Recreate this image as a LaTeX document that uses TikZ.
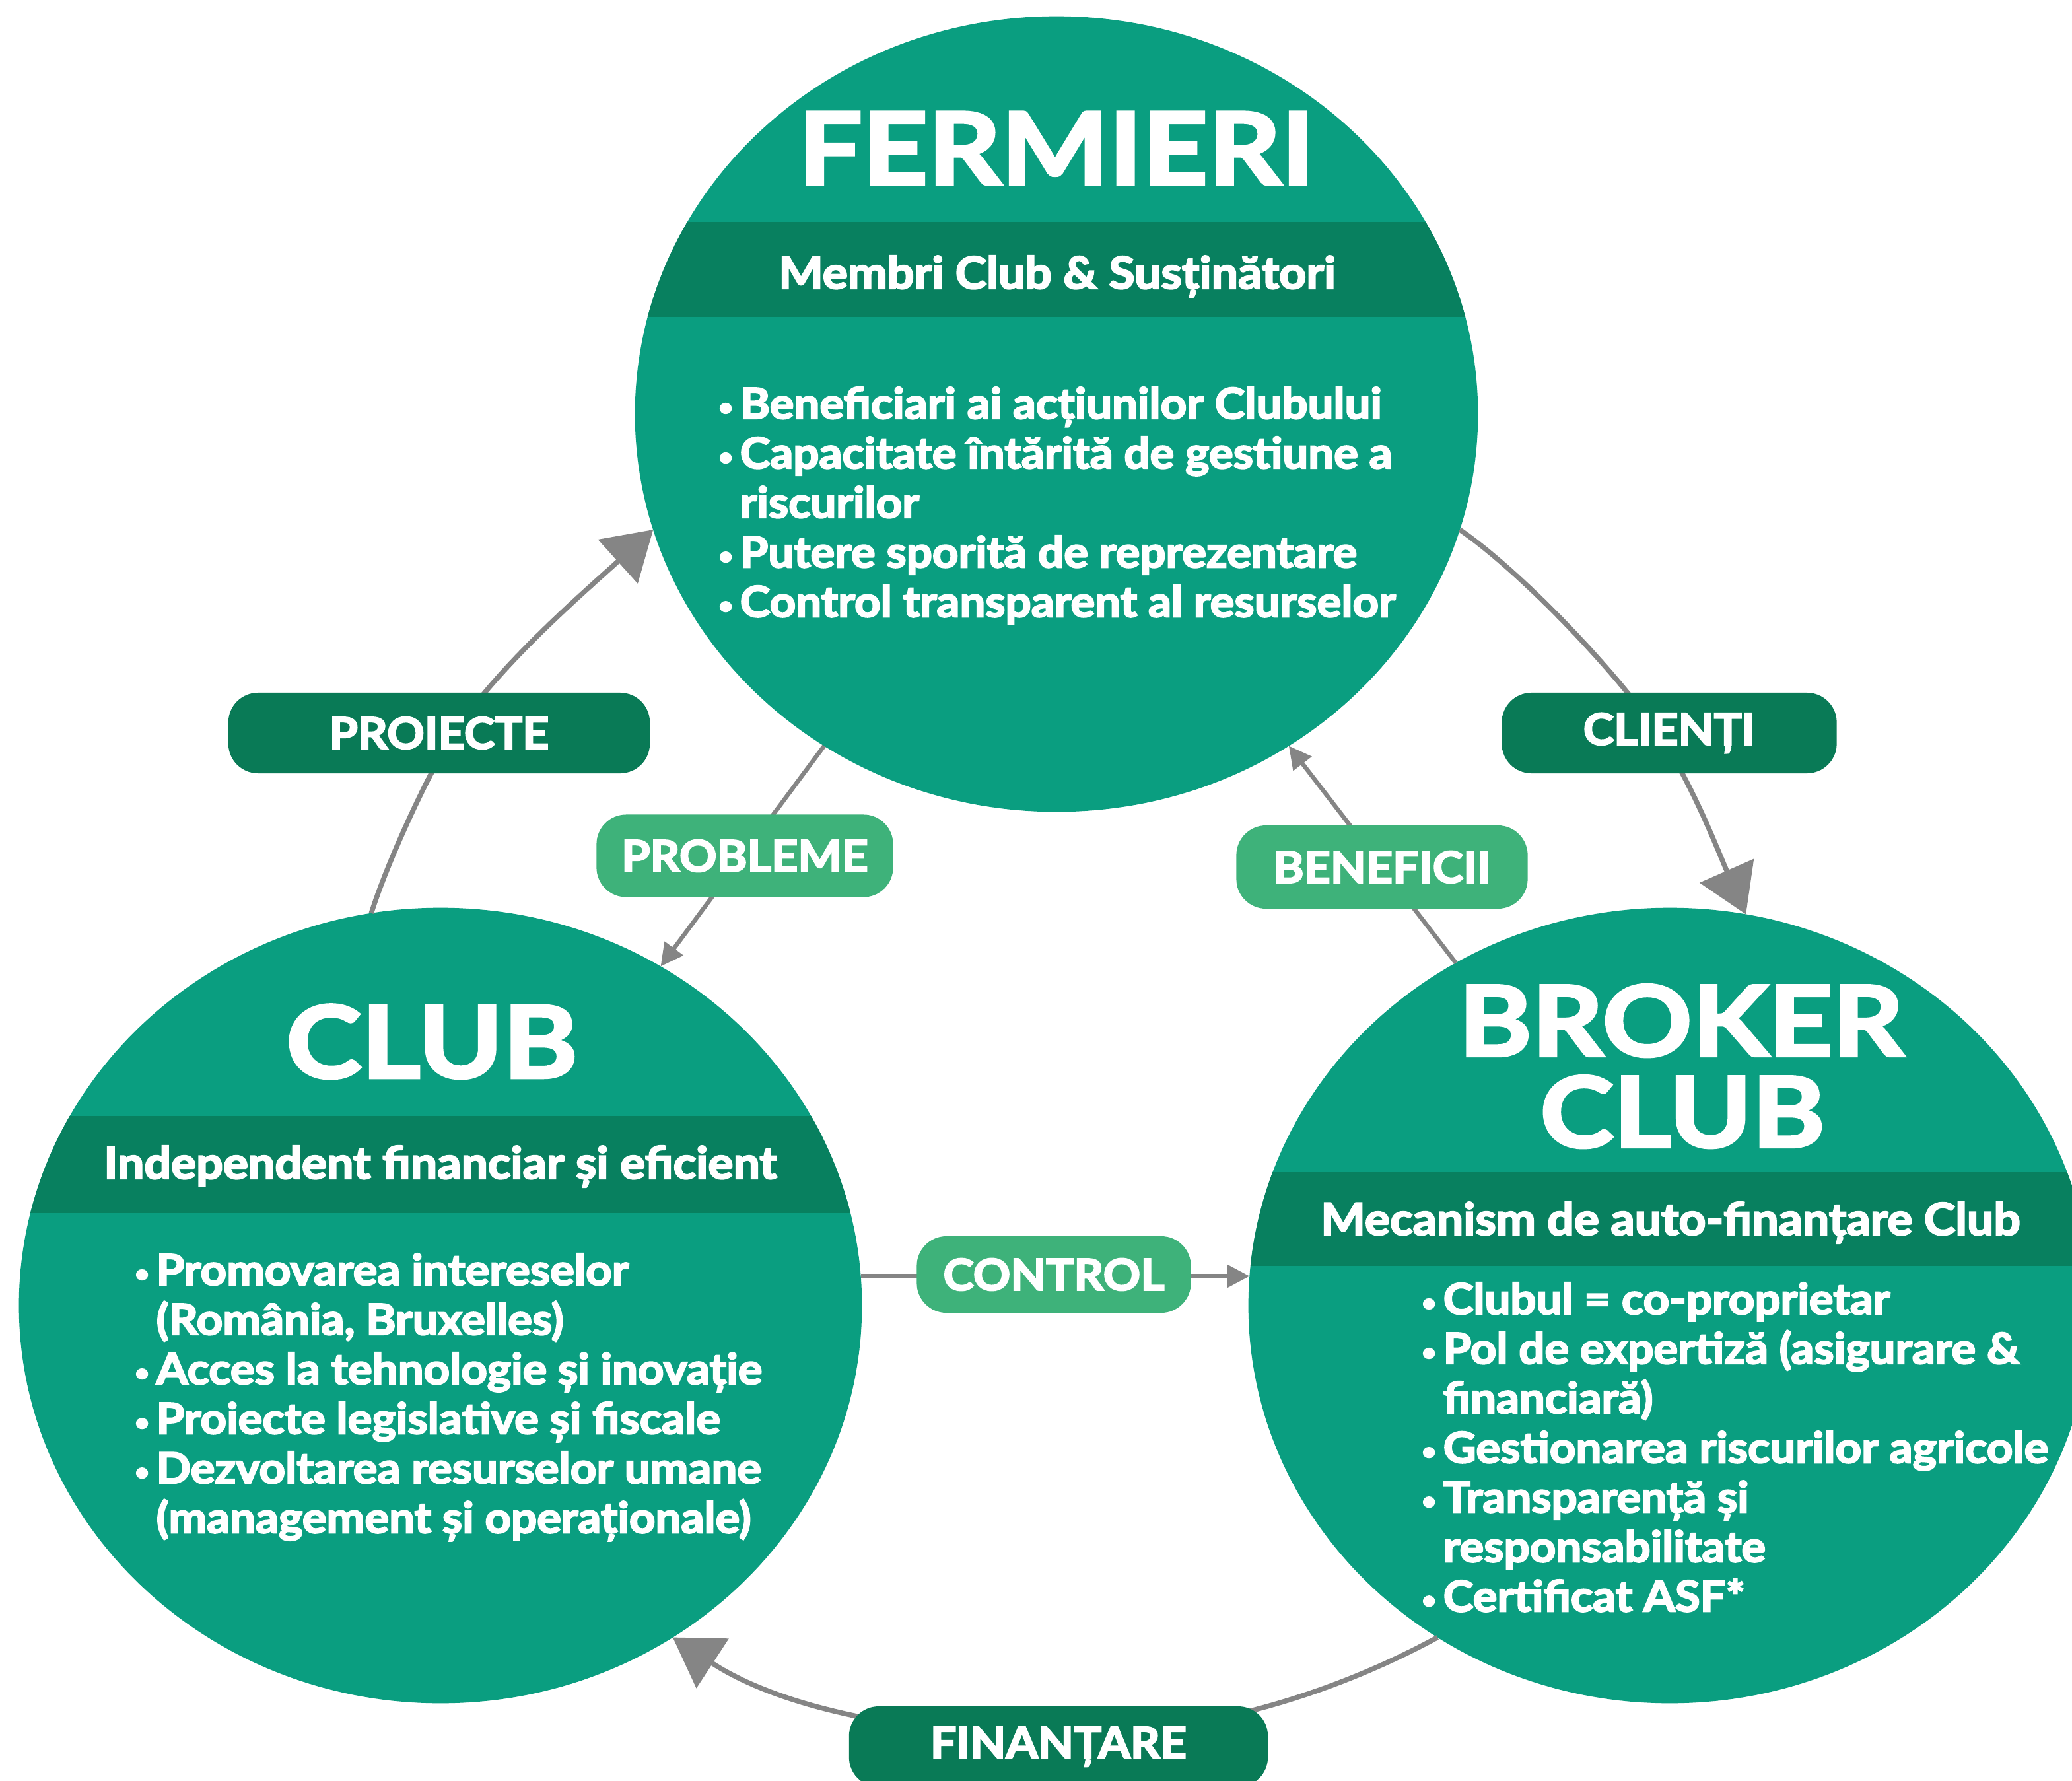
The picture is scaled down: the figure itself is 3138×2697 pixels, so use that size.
\documentclass[tikz,border=0pt]{standalone}
\usepackage{fontspec}
\usepackage{graphicx}
\setmainfont{Lato}[FakeStretch=1.065,FakeBold=3.5]
\newfontfamily\ttlfont{Lato}[FakeStretch=1.14,FakeBold=3]
\usetikzlibrary{shapes.geometric,arrows.meta}
\definecolor{circ}{HTML}{0A9E80}
\definecolor{bandc}{HTML}{08805F}
\definecolor{pdark}{HTML}{097A56}
\definecolor{plight}{HTML}{3EB27A}
\definecolor{arrgray}{HTML}{858585}
\newcommand\bodyfs{\fontsize{18.4}{21.34}\selectfont}
\newcommand\bandfs{\fontsize{19.1}{21.34}\selectfont}
\newcommand\pillfs{\fontsize{18.7}{20}\selectfont}
\newcommand\ttlfs{\ttlfont\bfseries\fontsize{43}{43}\selectfont}
\newcommand\ttlfsb{\ttlfont\bfseries\fontsize{42}{42}\selectfont}
\newcommand\bl{\makebox[0.33cm][l]{\raisebox{0.07em}{\fontsize{10.5}{10.5}\selectfont •}}}
\begin{document}
\begin{tikzpicture}[x=0.01cm,y=-0.01cm,
  blob/.style={ellipse, fill=circ, draw=none, minimum width=12.76cm, minimum height=12.04cm, inner sep=0pt, outer sep=0pt},
  pilldark/.style={rectangle, rounded corners=0.45cm, fill=pdark, text=white, font=\pillfs\bfseries, minimum height=1.22cm, inner sep=0pt},
  pilllight/.style={rectangle, rounded corners=0.45cm, fill=plight, text=white, font=\pillfs\bfseries, minimum height=1.22cm, inner sep=0pt},
  bigarr/.style={draw=arrgray, line width=0.075cm, -{Triangle[length=0.72cm,width=0.88cm]}},
  smallarr/.style={draw=arrgray, line width=0.065cm, -{Triangle[length=0.34cm,width=0.34cm]}},
  ttl/.style={text=white, inner sep=0pt, anchor=base},
  bandtxt/.style={text=white, font=\bandfs\bfseries, inner sep=0pt, anchor=base},
  bullets/.style={text=white, font=\bodyfs\bfseries, inner sep=0pt, anchor=base west}
]
\clip (0,0) rectangle (3138,2697);
\fill[white] (0,0) rectangle (3138,2697);

% circles
\node[blob] (fermieri) at (1600,627) {};
\node[blob] (club) at (667,1977) {};
\node[blob] (broker) at (2529,1977) {};

% bands
\begin{scope}
  \clip (1600,627) ellipse [x radius=6.38cm, y radius=6.02cm];
  \fill[bandc] (900,336) rectangle (2300,480);
\end{scope}
\begin{scope}
  \clip (667,1977) ellipse [x radius=6.38cm, y radius=6.02cm];
  \fill[bandc] (0,1690) rectangle (1400,1837);
\end{scope}
\begin{scope}
  \clip (2529,1977) ellipse [x radius=6.38cm, y radius=6.02cm];
  \fill[bandc] (1800,1775) rectangle (3200,1917);
\end{scope}

% connector waypoints
\coordinate (p1) at (688,1110);
\coordinate (p2) at (2511,1110);
\coordinate (p3) at (1603,2628);

% connectors
\draw[bigarr] (club.100) .. controls (588,1302) and (650,1168) .. (p1)
   .. controls (754,1010) and (874,906) .. (fermieri.196);
\draw[bigarr] (fermieri.-16) .. controls (2305,867) and (2449,1019) .. (p2)
   .. controls (2562,1184) and (2602,1289) .. (broker.79);
\draw[bigarr] (broker.235) .. controls (1999,2576) and (1800,2628) .. (p3)
   .. controls (1400,2628) and (1191,2592) .. (club.-55);
\draw[smallarr] (fermieri.235) -- (club.57);
\draw[smallarr] (broker.122) -- (fermieri.-55);
\draw[smallarr] (club.4) -- (broker.176);

% pills
\node[pilldark, minimum width=6.38cm] (proiecte) at (665,1110) {PROIECTE};
\node[pilllight, minimum width=4.49cm, minimum height=1.25cm] (probleme) at (1128,1296) {PROBLEME};
\node[pilldark, minimum width=5.07cm] (clienti) at (2528,1110) {CLIENȚI};
\node[pilllight, minimum width=4.41cm, minimum height=1.26cm] (beneficii) at (2093,1313) {BENEFICII};
\node[pilllight, minimum width=4.15cm, minimum height=1.16cm] (control) at (1596,1930) {CONTROL};
\node[pilldark, minimum width=6.34cm] (finantare) at (1603,2645) {FINANȚARE};

% titles
\node[ttl, font=\ttlfs] (fT) at (1600,279) {FERMIERI};
\node[ttl, font=\ttlfs] (cT) at (654,1632) {CLUB};
\node[ttl, font=\ttlfsb] (bT1) at (2546,1599) {BROKER};
\node[ttl, font=\ttlfsb] (bT2) at (2548,1737) {CLUB};

% band texts
\node[bandtxt] (fB) at (1601,437) {Membri Club \& Susținători};
\node[bandtxt] (cB) at (667,1785) {Independent financiar și eficient};
\node[bandtxt] (bB) at (2530,1870) {Mecanism de auto-finanțare Club};

% bullets
\node[bullets] (fL) at (1087,634) {\begin{tabular}[t]{@{}l@{}l@{}}
\bl & Beneficiari ai acțiunilor Clubului\\
\bl & Capacitate întărită de gestiune a\\
    & riscurilor\\
\bl & Putere sporită de reprezentare\\
\bl & Control transparent al resurselor
\end{tabular}};
\node[bullets] (cL) at (203,1946) {\begin{tabular}[t]{@{}l@{}l@{}}
\bl & Promovarea intereselor\\
    & (România, Bruxelles)\\
\bl & Acces la tehnologie și inovație\\
\bl & Proiecte legislative și fiscale\\
\bl & Dezvoltarea resurselor umane\\
    & (management și operaționale)
\end{tabular}};
\node[bullets] (bL) at (2152,1990) {\begin{tabular}[t]{@{}l@{}l@{}}
\bl & Clubul = co-proprietar\\
\bl & Pol de expertiză (asigurare \&\\
    & financiară)\\
\bl & Gestionarea riscurilor agricole\\
\bl & Transparență și\\
    & responsabilitate\\
\bl & Certificat ASF*
\end{tabular}};
\end{tikzpicture}
\end{document}
